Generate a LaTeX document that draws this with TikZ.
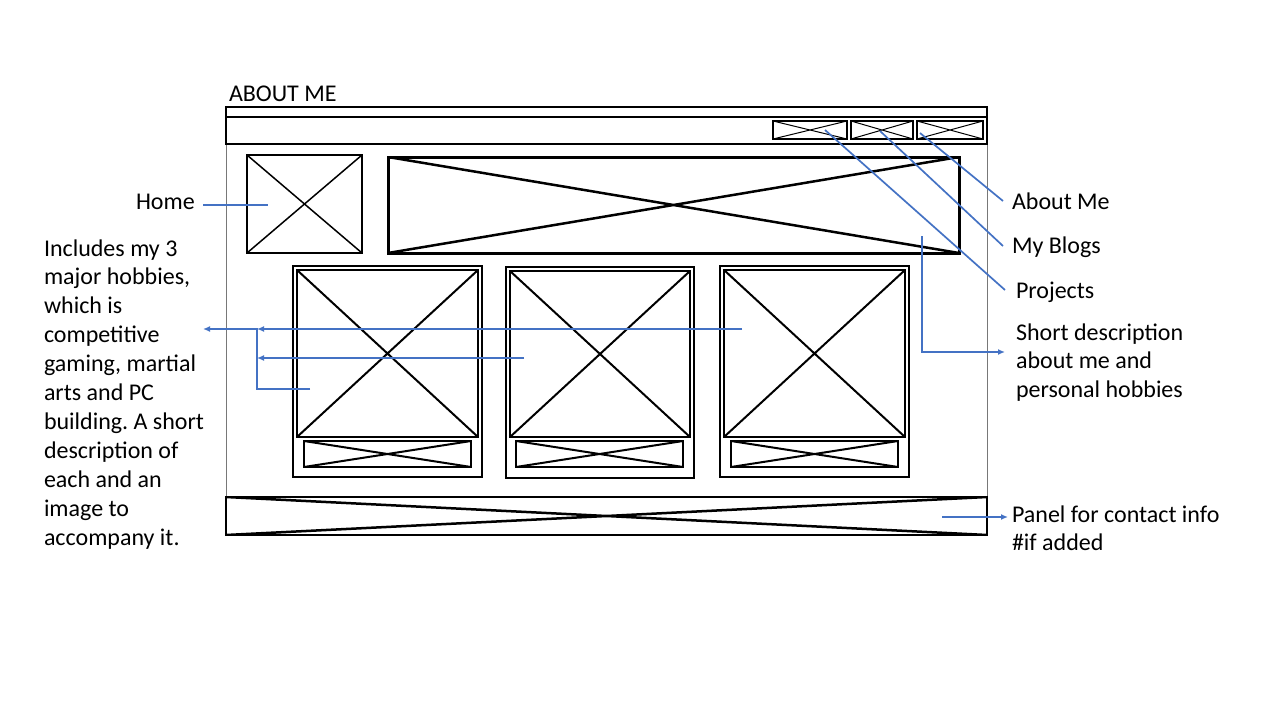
\documentclass[tikz,border=0pt]{standalone}
\usepackage{fontspec}
\setmainfont{Carlito}
\usetikzlibrary{arrows.meta}
\definecolor{conblue}{RGB}{68,114,196}
\definecolor{framegray}{RGB}{120,120,120}
\tikzset{
  wbox/.style={draw=black, rectangle, inner sep=0pt, outer sep=0pt, anchor=north west},
  crossed/.style={path picture={
      \draw[line width=#1] (path picture bounding box.north west) -- (path picture bounding box.south east)
                           (path picture bounding box.south west) -- (path picture bounding box.north east);}},
  crossed/.default=1.5pt,
  conn/.style={draw=conblue, line width=1.7pt},
  arr/.style={-{Latex[length=7pt,width=6pt]}},
  lbl/.style={inner sep=0pt, outer sep=0pt, anchor=base west, font=\fontsize{24}{28.9}\selectfont\frenchspacing},
  blk/.style={lbl, align=flush left, text width=#1},
}
\begin{document}
\begin{tikzpicture}[x=1pt,y=-1pt]
\useasboundingbox (0,0) rectangle (1280,720);
\fill[white] (0,0) rectangle (1280,720);

% outer frame
\node[wbox, draw=framegray, line width=1pt, minimum width=761pt, minimum height=428pt] (frame) at (226,107) {};
\node[wbox, line width=1.5pt, minimum width=761pt, minimum height=10pt] (strip) at (226,107) {};
\node[wbox, line width=2pt, minimum width=761pt, minimum height=27pt] (navbar) at (226,117) {};

% nav buttons
\node[wbox, line width=2pt, crossed=1pt, minimum width=74pt, minimum height=18pt] (nav1) at (773,121) {};
\node[wbox, line width=2pt, crossed=1pt, minimum width=62pt, minimum height=18pt] (nav2) at (851,121) {};
\node[wbox, line width=2pt, crossed=1pt, minimum width=66pt, minimum height=18pt] (nav3) at (917,121) {};

% logo and banner
\node[wbox, line width=2pt, crossed=1.5pt, minimum width=115pt, minimum height=98pt] (logo) at (247,155) {};
\node[wbox, line width=3pt, crossed=2.5pt, minimum width=571pt, minimum height=96pt] (banner) at (388,157) {};

% cards
\node[wbox, line width=2.2pt, minimum width=189pt, minimum height=211pt] (card1) at (293,266) {};
\node[wbox, line width=2.5pt, crossed=2pt, minimum width=181pt, minimum height=167pt] (pic1) at (297,270) {};
\node[wbox, line width=2.5pt, crossed=2pt, minimum width=167pt, minimum height=26pt] (cap1) at (304,441) {};

\node[wbox, line width=2.2pt, minimum width=188pt, minimum height=211pt] (card2) at (506,267) {};
\node[wbox, line width=2.5pt, crossed=2pt, minimum width=180pt, minimum height=166pt] (pic2) at (510,271) {};
\node[wbox, line width=2.5pt, crossed=2pt, minimum width=167pt, minimum height=26pt] (cap2) at (516,441) {};

\node[wbox, line width=2.2pt, minimum width=189pt, minimum height=211pt] (card3) at (720,266) {};
\node[wbox, line width=2.5pt, crossed=2pt, minimum width=181pt, minimum height=167pt] (pic3) at (724,270) {};
\node[wbox, line width=2.5pt, crossed=2pt, minimum width=167pt, minimum height=26pt] (cap3) at (731,441) {};

% footer
\node[wbox, line width=2.5pt, crossed=2.5pt, minimum width=761pt, minimum height=38pt] (footer) at (226,497) {};

% texts
\node[lbl] (title) at (229,101) {ABOUT ME};
\node[lbl] (home) at (136,209) {Home};
\node[lbl] (tabout) at (1012,209) {About Me};
\node[lbl] (tblogs) at (1012,253) {My Blogs};
\node[lbl] (tproj) at (1016,298) {Projects};
\node[blk=240pt] (tdesc) at (1016,340) {Short description\\about me and\\personal hobbies};
\node[blk=240pt] (tpanel) at (1012,522) {Panel for contact info\\\#if added};
\node[blk=200pt] (thobby) at (44,256) {Includes my 3\\major hobbies,\\which is\\competitive\\gaming, martial\\arts and PC\\building. A short\\description of\\each and an\\image to\\accompany it.};

% connector end points
\coordinate (homeA) at (203,205);
\coordinate (homeB) at (268,205);
\coordinate (n3p) at (920,133);
\coordinate (n2p) at (880,131);
\coordinate (n1p) at (825,130);
\coordinate (aboutEnd) at (1003,201);
\coordinate (blogsEnd) at (1003,246);
\coordinate (projEnd) at (1005,290);
\coordinate (banP) at (922,236);
\coordinate (descEnd) at (1005,352);
\coordinate (footP) at (942,517);
\coordinate (panelEnd) at (1008,517);
\coordinate (p3) at (742,329);
\coordinate (p2) at (524,358);
\coordinate (p1) at (310,389);
\coordinate (jA) at (257,329);
\coordinate (jB) at (257,358);
\coordinate (jC) at (257,389);
\coordinate (hobEnd) at (203,329);

% connectors
\draw[conn] (homeA) -- (homeB);
\draw[conn] (n3p) -- (aboutEnd);
\draw[conn] (n2p) -- (blogsEnd);
\draw[conn] (n1p) -- (projEnd);
\draw[conn, arr] (banP) |- (descEnd);
\draw[conn, arr] (footP) -- (panelEnd);
\draw[conn, arr] (p3) -- (jA);
\draw[conn, arr] (p2) -- (jB);
\draw[conn, arr] (p1) -- (jC) -- (jA) -- (hobEnd);
\end{tikzpicture}
\end{document}
